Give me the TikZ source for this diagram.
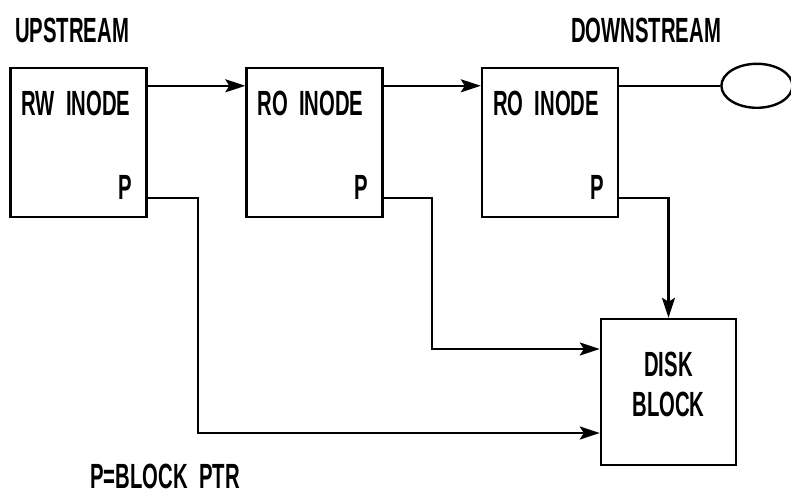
\documentclass[tikz,border=0pt]{standalone}
\usepackage{fontspec}
\setmainfont{Liberation Sans}[FakeStretch=0.58]
\usetikzlibrary{arrows.meta,positioning,shapes.geometric}

\begin{document}
\begin{tikzpicture}[x=1pt,y=1pt,line width=2.4pt,
    every node/.style={font=\bfseries\fontsize{35}{40}\selectfont},
    inode/.style={draw,rectangle,minimum width=136pt,minimum height=149pt,inner sep=0pt},
    txt/.style={inner sep=0pt},
    ptr/.style={-{Stealth[length=20pt,width=13pt,inset=4pt]}}]
    \useasboundingbox (0,0) rectangle (791,498);

    % inode boxes
    \foreach \name/\x/\lbl in {rw/78.5/RW\ \ INODE, roa/314.5/RO\ \ INODE, rob/550/RO\ \ INODE} {
        \node[inode] (\name) at (\x, 355.5) {};
        \node[txt,anchor=north west] (\name_txt) at ([xshift=11pt,yshift=-23pt]\name.north west) {\lbl};
        \node[txt,anchor=south east] (\name_p) at ([xshift=-14pt,yshift=17pt]\name.south east) {P};
    }

    \node[inode,minimum width=135pt,minimum height=146pt] (disk) at (668.5,106) {};
    \node[txt,align=center] (disk_txt) at ([yshift=8pt]disk.center) {DISK\\BLOCK};
    \node[draw,ellipse,minimum width=71pt,minimum height=44pt,inner sep=0pt,anchor=west] (tail)
        at ([xshift=101pt,yshift=-19pt]rob.north east) {};

    \node[txt] (up) at (72,468) {UPSTREAM};
    \node[txt] (down) at (646,468) {DOWNSTREAM};
    \node[txt] (key) at (165,22) {P=BLOCK\ \ PTR};

    % chain
    \draw[ptr] ([yshift=-19pt]rw.north east) -- ([yshift=-19pt]roa.north west);
    \draw[ptr] ([yshift=-19pt]roa.north east) -- ([yshift=-19pt]rob.north west);
    \draw ([yshift=-19pt]rob.north east) -- (tail.west);

    % block pointers
    \draw[ptr] ([yshift=20pt]rw.south east) -| (198,65) -- (disk.west |- 0,65);
    \draw[ptr] ([yshift=20pt]roa.south east) -| (432,149) -- (disk.west |- 0,149);
    \draw[ptr] ([yshift=20pt]rob.south east) -| (disk.north);
\end{tikzpicture}
\end{document}
